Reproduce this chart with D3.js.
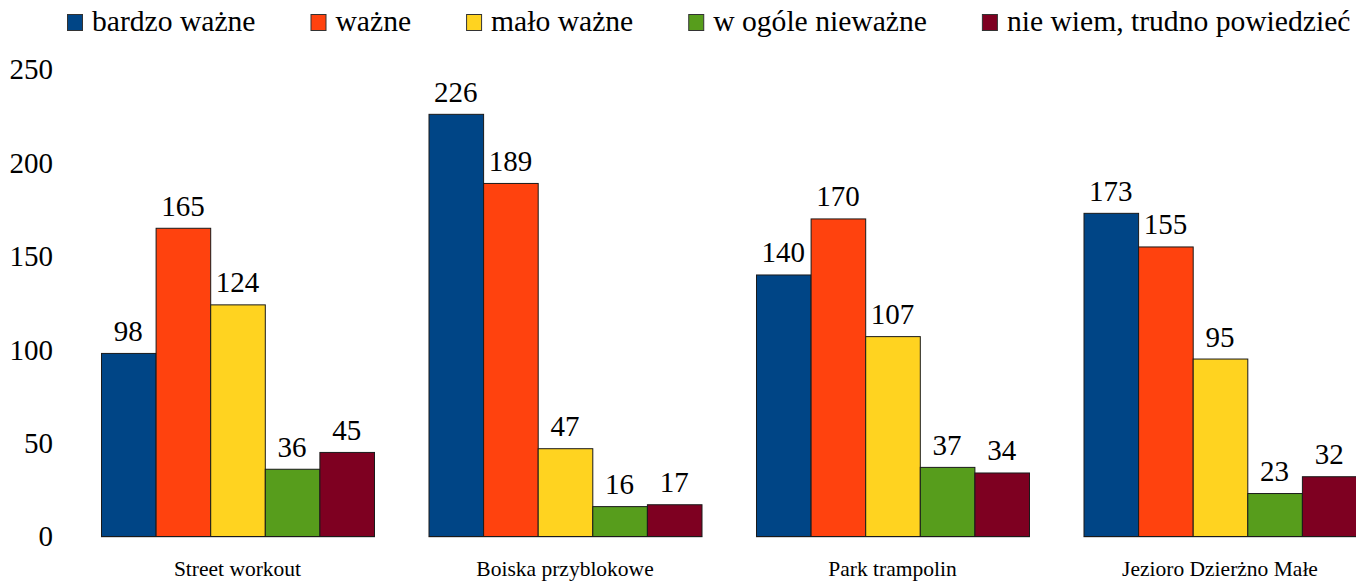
<!DOCTYPE html>
<html><head><meta charset="utf-8">
<script src="https://cdn.jsdelivr.net/npm/d3@7"></script>
<style>body{margin:0;background:#fff}svg{display:block}</style>
</head><body><svg id="c" width="1356" height="581" font-family="Liberation Serif, Times New Roman, serif"></svg>
<script>
const categories = ["Street workout","Boiska przyblokowe","Park trampolin","Jezioro Dzierżno Małe"];
const seriesNames = ["bardzo ważne","ważne","mało ważne","w ogóle nieważne","nie wiem, trudno powiedzieć"];
const seriesColors = ["#004586","#ff420e","#ffd320","#579d1c","#7e0021"];
const values = [
  [98,165,124,36,45],
  [226,189,47,16,17],
  [140,170,107,37,34],
  [173,155,95,23,32]
];
const yTicks = [0,50,100,150,200,250];

const FONT = "Liberation Serif, Times New Roman, serif";
const svg = d3.select("#c");
const y = d3.scaleLinear().domain([0,250]).range([536,69]);
const x0 = d3.scaleBand().domain(categories).range([73.75,1383.75]).paddingInner(0.1664).paddingOuter(0.0832);
const x1 = d3.scaleBand().domain(seriesNames).range([0,x0.bandwidth()]);

// y axis labels
const yAxis = d3.axisLeft(y).tickValues(yTicks).tickSize(0).tickPadding(0);
const ga = svg.append("g").attr("transform","translate(53,0)").call(yAxis)
  .attr("font-family",FONT).attr("font-size",29);
ga.select(".domain").remove();
ga.selectAll("text").attr("fill","#000").attr("dy","0.34em");

const groups = svg.append("g").selectAll("g").data(categories).join("g")
  .attr("transform",d=>`translate(${x0(d)},0)`);

groups.append("line").attr("x1",0).attr("x2",x0.bandwidth()+1).attr("y1",y(0)+1).attr("y2",y(0)+1)
  .attr("stroke","#aaa").attr("stroke-width",1);

groups.each(function(cat,ci){
  const g = d3.select(this);
  const data = seriesNames.map((s,si)=>({s,si,v:values[ci][si]}));
  g.selectAll("rect").data(data).join("rect")
    .attr("x",d=>x1(d.s)+0.5).attr("y",d=>y(d.v)+0.5)
    .attr("width",x1.bandwidth()).attr("height",d=>y(0)-y(d.v))
    .attr("fill",d=>seriesColors[d.si]).attr("stroke","#1a1a1a").attr("stroke-width",1);
  g.selectAll("text.v").data(data).join("text").attr("class","v")
    .attr("x",d=>x1(d.s)+x1.bandwidth()/2).attr("y",d=>y(d.v)-12)
    .attr("text-anchor","middle").attr("font-family",FONT).attr("font-size",29).text(d=>d.v);
});

// category labels
const xAxis = d3.axisBottom(x0).tickSize(0).tickPadding(0);
const gx = svg.append("g").attr("transform","translate(0,576)").call(xAxis)
  .attr("font-family",FONT).attr("font-size",21.5);
gx.select(".domain").remove();
gx.selectAll("text").attr("fill","#000").attr("dy","0");

// legend
const leg = svg.append("g");
let lx = 67;
seriesNames.forEach((s,i)=>{
  leg.append("rect").attr("x",lx+0.5).attr("y",14.5).attr("width",15).attr("height",16)
    .attr("fill",seriesColors[i]).attr("stroke","#333").attr("stroke-width",1);
  const t = leg.append("text").attr("x",lx+25).attr("y",31).attr("font-family",FONT).attr("font-size",29.6).text(s);
  lx += 25 + t.node().getComputedTextLength() + 55;
});
</script></body></html>
